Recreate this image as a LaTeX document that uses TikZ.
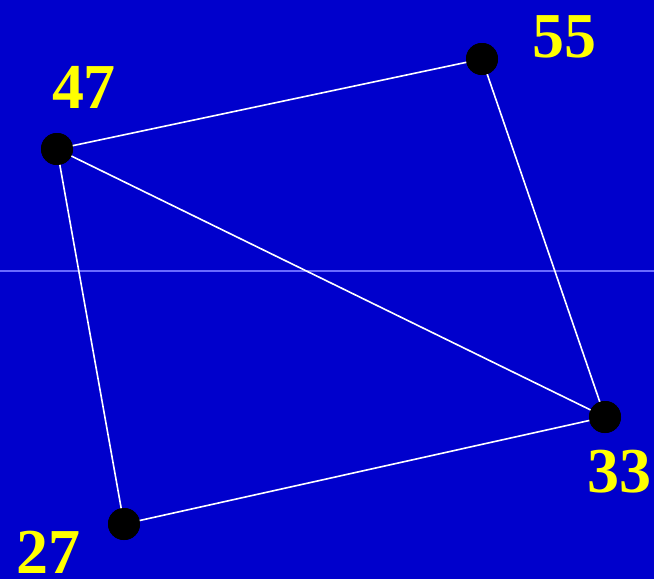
\documentclass[tikz,border=0pt]{standalone}
\usepackage{fontspec}
\setmainfont{Liberation Serif}
\usepackage{tikz}
\usetikzlibrary{positioning}
\definecolor{BgBlue}{HTML}{0000CC}
\definecolor{RuleBlue}{HTML}{6A6AFF}
\definecolor{NumYellow}{HTML}{FFFF00}

\begin{document}
\begin{tikzpicture}[
    x=0.5pt, y=-0.5pt,
    vert/.style={circle, fill=black, inner sep=0pt, minimum size=16pt},
    num/.style={font=\fontsize{32}{32}\selectfont\bfseries, text=NumYellow, inner sep=0pt},
    edge/.style={white, line width=0.8pt},
  ]
  \useasboundingbox (0,0) rectangle (654,579);
  \fill[BgBlue] (0,0) rectangle (654,579);
  % --- faint horizontal rule ---
  \draw[RuleBlue, line width=0.6pt] (0,271) -- (654,271);
  % --- vertices ---
  \node[vert] (v47) at (57,149) {};
  \node[vert] (v55) at (482,59) {};
  \node[vert] (v33) at (605,417) {};
  \node[vert] (v27) at (124,524) {};
  % --- edges ---
  \draw[edge] (v47.center) -- (v55.center);
  \draw[edge] (v55.center) -- (v33.center);
  \draw[edge] (v47.center) -- (v33.center);
  \draw[edge] (v47.center) -- (v27.center);
  \draw[edge] (v27.center) -- (v33.center);
  \foreach \v in {v47,v55,v33,v27}{
    \node[vert] at (\v) {};
  }
  % --- labels ---
  \node[num] (l47) at (84,87) {47};
  \node[num] (l55) at (564,37) {55};
  \node[num] (l33) at (619,472) {33};
  \node[num] (l27) at (49,552) {27};
\end{tikzpicture}
\end{document}
